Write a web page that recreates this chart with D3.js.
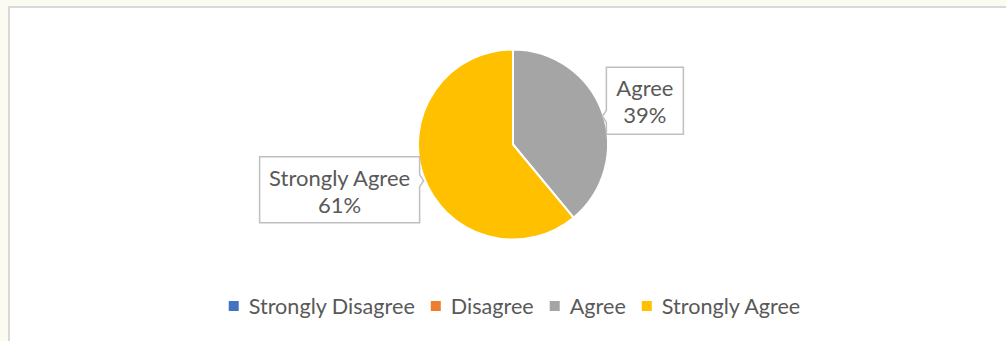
<!DOCTYPE html>
<html>
<head>
<meta charset="utf-8">
<script src="https://cdn.jsdelivr.net/npm/d3@7"></script>
<style>
  html, body { margin: 0; padding: 0; background: #fbfbf2; }
  svg { display: block; }
</style>
</head>
<body>
<svg id="chart" width="1006" height="341"></svg>
<script>
// Survey response categories and their shares (percent)
const categories = ["Strongly Disagree", "Disagree", "Agree", "Strongly Agree"];
const shares = [0, 0, 39, 61];
const colors = ["#4472c4", "#ed7d31", "#a5a5a5", "#ffc000"];

const W = 1006, H = 341;
const svg = d3.select("#chart");
const font = "Lato, 'Open Sans', sans-serif";
const textColor = "#595959";

// chart frame
svg.append("rect")
  .attr("x", 9).attr("y", 7)
  .attr("width", W + 10).attr("height", H + 10)
  .attr("fill", "#ffffff")
  .attr("stroke", "#d9d9d9").attr("stroke-width", 2);

const cx = 513, cy = 144.5, r = 95;
const g = svg.append("g").attr("transform", `translate(${cx},${cy})`);

const data = categories.map((c, i) => ({ name: c, value: shares[i], color: colors[i] }));

// Pie begins at 12 o'clock with Agree, going clockwise
const order = [2, 3, 0, 1];
const pie = d3.pie()
  .value(d => d.value)
  .sort((a, b) => order.indexOf(categories.indexOf(a.name)) - order.indexOf(categories.indexOf(b.name)));
const slices = pie(data).filter(d => d.data.value > 0);

const arc = d3.arc().innerRadius(0).outerRadius(r);
g.selectAll("path.slice")
  .data(slices)
  .enter().append("path")
  .attr("class", "slice")
  .attr("d", arc)
  .attr("fill", d => d.data.color)
  .attr("stroke", "#ffffff")
  .attr("stroke-width", 2)
  .attr("stroke-linejoin", "round");

// data labels in callout boxes
const labelStyle = {
  "Agree": { w: 77, h: 67, dx: 3, dyTop: -45 },
  "Strongly Agree": { w: 160, h: 66, dx: -3, dyTop: -20 }
};

slices.forEach(d => {
  const mid = (d.startAngle + d.endAngle) / 2;
  const px = Math.sin(mid) * r, py = -Math.cos(mid) * r;
  const s = labelStyle[d.data.name];
  const right = px >= 0;
  const x0 = right ? px + s.dx + 1 : px + s.dx - s.w - 1;
  const y0 = py + s.dyTop;
  const x1 = x0 + s.w, y1 = y0 + s.h;
  const tip = 4, half = 6;
  const pyc = Math.max(y0 + half + 2, Math.min(y1 - half - 2, py + 4));
  let path;
  if (right) {
    path = `M${x0},${y0}H${x1}V${y1}H${x0}V${pyc + half}L${x0 - tip},${pyc}L${x0},${pyc - half}Z`;
  } else {
    path = `M${x0},${y0}H${x1}V${pyc - half}L${x1 + tip},${pyc}L${x1},${pyc + half}V${y1}H${x0}Z`;
  }
  g.append("path")
    .attr("d", path)
    .attr("fill", "#ffffff")
    .attr("stroke", "#bfbfbf")
    .attr("stroke-width", 1.5);
  const tx = (x0 + x1) / 2;
  const t = g.append("text")
    .attr("x", tx)
    .attr("text-anchor", "middle")
    .attr("font-family", font)
    .attr("font-size", 22)
    .attr("fill", textColor);
  t.append("tspan").attr("x", tx).attr("y", y0 + 29).text(d.data.name);
  t.append("tspan").attr("x", tx).attr("y", y0 + 56).text(d3.format(".0%")(d.data.value / 100));
});

// legend
const legend = svg.append("g");
const legendY = 306;
const items = legend.selectAll("g.item").data(data).enter().append("g").attr("class", "item");
items.append("rect")
  .attr("width", 10).attr("height", 10)
  .attr("y", legendY - 5)
  .attr("fill", d => d.color);
items.append("text")
  .attr("x", 20)
  .attr("y", legendY + 7.5)
  .attr("font-family", font)
  .attr("font-size", 21.6)
  .attr("fill", textColor)
  .text(d => d.name);

const gap = 16;
const widths = [];
items.each(function () {
  widths.push(this.querySelector("text").getComputedTextLength() + 20);
});
const total = d3.sum(widths) + gap * (widths.length - 1);
const startX = 514.5 - total / 2;
items.attr("transform", (d, i) => {
  const x = startX + d3.sum(widths.slice(0, i)) + gap * i;
  return `translate(${x},0)`;
});
</script>
</body>
</html>
